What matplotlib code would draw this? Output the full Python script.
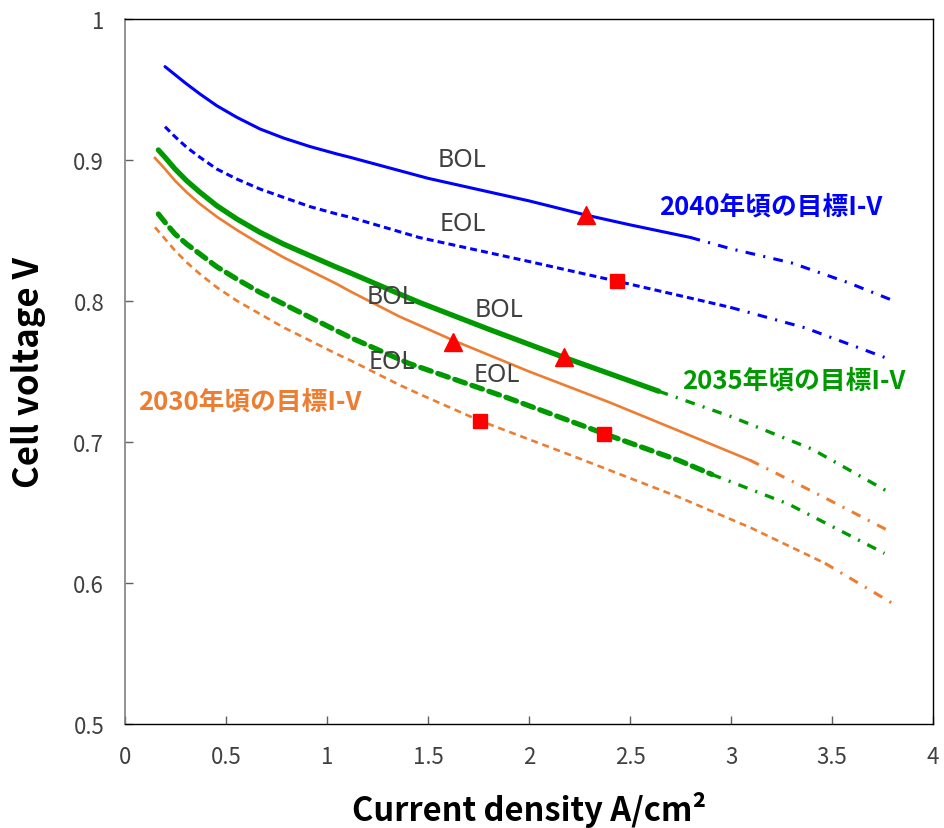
import matplotlib
matplotlib.use("Agg")
import matplotlib.pyplot as plt

plt.rcParams['font.family'] = ['Noto Sans CJK JP', 'DejaVu Sans']
plt.rcParams['lines.scale_dashes'] = False

# I-V curves (current density A/cm2, cell voltage V)
# 2040 target
i40_bol = [0.198, 0.2475, 0.305, 0.371, 0.454, 0.553, 0.668, 0.784, 0.916, 1.048, 1.114,
           1.5, 2.0, 2.28, 2.5, 2.80]
v40_bol = [0.9662, 0.9605, 0.9539, 0.9468, 0.9385, 0.9303, 0.922, 0.9156, 0.9095, 0.9043, 0.9019,
           0.887, 0.871, 0.861, 0.854, 0.845]
i40_bol_ext = [2.80, 3.0, 3.3, 3.58, 3.79]
v40_bol_ext = [0.845, 0.837, 0.827, 0.813, 0.801]

i40_eol = [0.198, 0.2475, 0.305, 0.371, 0.454, 0.553, 0.668, 0.784, 0.916, 1.048, 1.114,
           1.457, 2.0, 2.436, 2.74, 2.996]
v40_eol = [0.9236, 0.9165, 0.909, 0.9019, 0.8936, 0.8865, 0.8794, 0.8735, 0.8669, 0.8617, 0.8594,
           0.845, 0.828, 0.814, 0.804, 0.7955]
i40_eol_ext = [2.996, 3.366, 3.76]
v40_eol_ext = [0.7955, 0.781, 0.760]

# 2035 target
i35_bol = [0.165, 0.198, 0.2475, 0.305, 0.371, 0.454, 0.553, 0.668, 0.784, 0.916, 1.048, 1.114,
           1.358, 1.457, 1.8, 2.173, 2.642]
v35_bol = [0.9071, 0.9019, 0.8936, 0.8853, 0.8771, 0.8676, 0.8582, 0.8487, 0.8404, 0.8321, 0.8239, 0.8200,
           0.805, 0.799, 0.780, 0.760, 0.736]
i35_bol_ext = [2.642, 3.0, 3.4, 3.786]
v35_bol_ext = [0.736, 0.718, 0.695, 0.664]

i35_eol = [0.165, 0.198, 0.2475, 0.305, 0.371, 0.454, 0.553, 0.668, 0.784, 0.916, 1.048, 1.114,
           1.4, 1.9, 2.37, 2.74, 2.905]
v35_eol = [0.8617, 0.8558, 0.8475, 0.8404, 0.8333, 0.8243, 0.8156, 0.8061, 0.7979, 0.7884, 0.7789, 0.7742,
           0.756, 0.731, 0.706, 0.687, 0.677]
i35_eol_ext = [2.905, 3.284, 3.76]
v35_eol_ext = [0.677, 0.656, 0.621]

# 2030 target
i30_bol = [0.1485, 0.198, 0.2475, 0.305, 0.371, 0.454, 0.553, 0.668, 0.784, 0.916, 1.048, 1.114,
           1.358, 1.626, 2.0, 2.4, 2.74, 3.095]
v30_bol = [0.9014, 0.8936, 0.8853, 0.8771, 0.8688, 0.8598, 0.8504, 0.8404, 0.831, 0.8215, 0.8121, 0.8069,
           0.789, 0.772, 0.750, 0.728, 0.708, 0.687]
i30_bol_ext = [3.095, 3.416, 3.794]
v30_bol_ext = [0.687, 0.664, 0.636]

i30_eol = [0.1485, 0.198, 0.2475, 0.305, 0.371, 0.454, 0.553, 0.668, 0.784, 0.916, 1.048, 1.114,
           1.358, 1.457, 1.758, 2.2, 2.74, 3.1, 3.465]
v30_eol = [0.8523, 0.844, 0.8357, 0.8274, 0.8191, 0.8097, 0.8002, 0.7908, 0.7813, 0.7719, 0.7624, 0.7580,
           0.7405, 0.734, 0.715, 0.691, 0.661, 0.639, 0.614]
i30_eol_ext = [3.465, 3.794]
v30_eol_ext = [0.614, 0.586]

# operating points
tri_i = [2.28, 2.173, 1.626]
tri_v = [0.861, 0.760, 0.771]
sq_i = [2.436, 2.370, 1.758]
sq_v = [0.814, 0.706, 0.715]

BLUE = '#0000FF'
GREEN = '#009A00'
ORANGE = '#ED7D31'
RED = '#FF0000'

fig = plt.figure(figsize=(9.45, 8.29), dpi=100)
ax = fig.add_axes([0.1323, 0.1255, 0.8550, 0.8504])

dashdot = (0, (7, 6, 1.5, 6))

ax.plot(i40_bol, v40_bol, color=BLUE, lw=2.2, solid_capstyle='round')
ax.plot(i40_bol_ext, v40_bol_ext, color=BLUE, lw=2.2, linestyle=dashdot)
ax.plot(i40_eol, v40_eol, color=BLUE, lw=2.2, linestyle=(0, (5, 3)))
ax.plot(i40_eol_ext, v40_eol_ext, color=BLUE, lw=2.2, linestyle=dashdot)

ax.plot(i35_bol, v35_bol, color=GREEN, lw=3.8, solid_capstyle='round')
ax.plot(i35_bol_ext, v35_bol_ext, color=GREEN, lw=2.4, linestyle=dashdot)
ax.plot(i35_eol, v35_eol, color=GREEN, lw=3.8, linestyle=(0, (8, 5)),
        dash_capstyle='round')
ax.plot(i35_eol_ext, v35_eol_ext, color=GREEN, lw=2.4, linestyle=dashdot)

ax.plot(i30_bol, v30_bol, color=ORANGE, lw=1.9)
ax.plot(i30_bol_ext, v30_bol_ext, color=ORANGE, lw=2.2, linestyle=dashdot)
ax.plot(i30_eol, v30_eol, color=ORANGE, lw=1.9, linestyle=(0, (5, 3.5)))
ax.plot(i30_eol_ext, v30_eol_ext, color=ORANGE, lw=2.2, linestyle=dashdot)

ax.plot(tri_i, tri_v, linestyle='none', marker='^', ms=13, color=RED, zorder=5)
ax.plot(sq_i, sq_v, linestyle='none', marker='s', ms=10.5, color=RED, zorder=5)

# curve labels
txt = dict(fontsize=18, color='#404040', ha='center', va='center',
           family=['Noto Sans', 'DejaVu Sans'])
ax.text(1.669, 0.900, 'BOL', **txt)
ax.text(1.674, 0.8553, 'EOL', **txt)
ax.text(1.319, 0.8035, 'BOL', **txt)
ax.text(1.852, 0.7943, 'BOL', **txt)
ax.text(1.319, 0.7574, 'EOL', **txt)
ax.text(1.842, 0.7475, 'EOL', **txt)

ax.text(2.642, 0.8674, '2040年頃の目標I-V', color=BLUE, fontsize=18.5,
        fontweight='bold', va='center', ha='left')
ax.text(2.756, 0.7440, '2035年頃の目標I-V', color=GREEN, fontsize=18.5,
        fontweight='bold', va='center', ha='left')
ax.text(0.064, 0.7290, '2030年頃の目標I-V', color=ORANGE, fontsize=18.5,
        fontweight='bold', va='center', ha='left')

ax.set_xlim(0, 4)
ax.set_ylim(0.5, 1.0)
ax.set_xticks([0, 0.5, 1, 1.5, 2, 2.5, 3, 3.5, 4])
ax.set_xticklabels(['0', '0.5', '1', '1.5', '2', '2.5', '3', '3.5', '4'])
ax.set_yticks([0.5, 0.6, 0.7, 0.8, 0.9, 1.0])
ax.set_yticklabels(['0.5', '0.6', '0.7', '0.8', '0.9', '1'])
ax.tick_params(direction='in', length=6, width=1, color='#606060',
               labelsize=16, labelcolor='#404040', pad=15)

for side in ['top', 'right', 'bottom']:
    ax.spines[side].set_color('#000000')
    ax.spines[side].set_linewidth(1.0)
ax.spines['left'].set_color('#808080')
ax.spines['left'].set_linewidth(1.2)

ax.set_xlabel('Current density A/cm²', fontsize=23.5, fontweight='bold', va='center')
ax.set_ylabel('Cell voltage V', fontsize=25, fontweight='bold', va='center')
ax.xaxis.set_label_coords(0.50, -0.1206)
ax.yaxis.set_label_coords(-0.12, 0.5)

fig.savefig('out.png', dpi=100)
